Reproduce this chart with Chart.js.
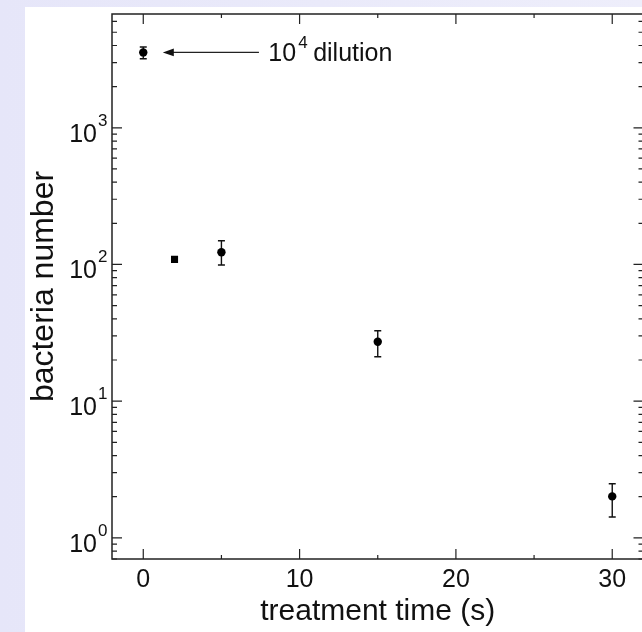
<!DOCTYPE html>
<html>
<head>
<meta charset="utf-8">
<script src="https://cdn.jsdelivr.net/npm/chart.js@4.4.0/dist/chart.umd.min.js"></script>
<style>
  html, body { margin: 0; padding: 0; overflow: hidden; }
  body { width: 642px; height: 632px; position: relative; background: linear-gradient(to right, #e6e6f9, #eeeefb); }
  #panel { position: absolute; left: 25px; top: 7px; right: 0; bottom: 0; background: #fff; }
  #wrap { position: absolute; left: 0; top: 0; width: 660px; height: 632px; }
</style>
</head>
<body>
<div id="panel"></div>
<div id="wrap"><canvas id="chart"></canvas></div>
<script>
// treatment time (s) and bacteria counts
var times = [0, 2, 5, 15, 30];
var counts = [3560, 109, 123, 27.2, 2.01];
var errLow = [3200, null, 99, 21.1, 1.42];
var errHigh = [3900, null, 149, 32.7, 2.49];
var markers = ['circle', 'rect', 'circle', 'circle', 'circle'];
var markerSize = [4.2, 5, 4.2, 4.2, 4.2];

var xTicks = [0, 5, 10, 15, 20, 25, 30];
var xLabels = [0, 10, 20, 30];
var yMajor = [1, 10, 100, 1000];
var yExp = ['0', '1', '2', '3'];
var yMin = 0.7, yMax = 6800;

// annotation: arrow pointing at the first point
var noteText = 'dilution';
var noteExp = '4';
var arrowFrom = 7.4, arrowTo = 1.25, noteX = 8.0, noteY = 3560;

var FONT = "'Liberation Sans', Arial, sans-serif";

function yTickValues() {
    var vals = [0.7, 0.8, 0.9];
    yMajor.forEach(function (d) {
        for (let m = 1; m <= 9; m++) {
            if (m * d <= yMax) vals.push(m * d);
        }
    });
    return vals;
}

var frame = {
    id: 'frame',
    beforeDatasetsDraw(chart) {
        const { ctx, scales: { x, y } } = chart;
        ctx.save();
        ctx.strokeStyle = '#111';
        ctx.lineWidth = 1.4;
        times.forEach(function (t, i) {
            if (errLow[i] == null) return;
            const px = x.getPixelForValue(t);
            const lo = y.getPixelForValue(errLow[i]);
            const hi = y.getPixelForValue(errHigh[i]);
            ctx.beginPath();
            ctx.moveTo(px, lo); ctx.lineTo(px, hi);
            ctx.moveTo(px - 3.5, lo); ctx.lineTo(px + 3.5, lo);
            ctx.moveTo(px - 3.5, hi); ctx.lineTo(px + 3.5, hi);
            ctx.stroke();
        });
        ctx.restore();
    },
    afterDraw(chart) {
        const { ctx, chartArea: a, scales: { x, y } } = chart;
        ctx.save();
        ctx.strokeStyle = '#222';
        ctx.lineWidth = 1.5;
        ctx.strokeRect(a.left, a.top, a.right - a.left, a.bottom - a.top);

        // inward tick marks
        ctx.lineWidth = 1.2;
        ctx.beginPath();
        x.ticks.forEach(function (t) {
            const px = x.getPixelForValue(t.value);
            const len = xLabels.indexOf(t.value) >= 0 ? 10 : 4;
            ctx.moveTo(px, a.bottom); ctx.lineTo(px, a.bottom - len);
            ctx.moveTo(px, a.top); ctx.lineTo(px, a.top + len);
        });
        y.ticks.forEach(function (t) {
            const py = y.getPixelForValue(t.value);
            const len = yMajor.indexOf(t.value) >= 0 ? 10 : 5;
            ctx.moveTo(a.left, py); ctx.lineTo(a.left + len, py);
            ctx.moveTo(a.right, py); ctx.lineTo(a.right - len, py);
        });
        ctx.stroke();

        // y labels with superscript exponents
        ctx.fillStyle = '#111';
        ctx.textBaseline = 'alphabetic';
        yMajor.forEach(function (v, i) {
            const py = y.getPixelForValue(v);
            ctx.font = '25px ' + FONT;
            ctx.textAlign = 'right';
            ctx.fillText('10', 97, py + 14);
            ctx.font = '17px ' + FONT;
            ctx.textAlign = 'left';
            ctx.fillText(yExp[i], 98, py - 2);
        });

        // annotation arrow + text
        const ay = y.getPixelForValue(noteY);
        const x0 = x.getPixelForValue(arrowFrom);
        const x1 = x.getPixelForValue(arrowTo);
        ctx.lineWidth = 1.2;
        ctx.beginPath();
        ctx.moveTo(x0, ay); ctx.lineTo(x1 + 8, ay);
        ctx.stroke();
        ctx.beginPath();
        ctx.moveTo(x1, ay);
        ctx.lineTo(x1 + 11, ay - 3.8);
        ctx.lineTo(x1 + 11, ay + 3.8);
        ctx.closePath();
        ctx.fill();

        const tx = x.getPixelForValue(noteX);
        ctx.font = '25px ' + FONT;
        ctx.textAlign = 'left';
        ctx.fillText('10', tx, ay + 9);
        const w10 = ctx.measureText('10').width;
        ctx.font = '17px ' + FONT;
        ctx.fillText(noteExp, tx + w10 + 2, ay - 4);
        ctx.font = '25px ' + FONT;
        ctx.fillText(noteText, tx + w10 + 17, ay + 9);
        ctx.restore();
    }
};

const ctx = document.getElementById('chart');
new Chart(ctx, {
    type: 'scatter',
    data: {
        datasets: [{
            data: times.map(function (t, i) { return { x: t, y: counts[i] }; }),
            pointStyle: markers,
            pointRadius: markerSize,
            pointBackgroundColor: '#000',
            pointBorderColor: '#000',
            pointBorderWidth: 0
        }]
    },
    options: {
        responsive: true,
        maintainAspectRatio: false,
        animation: false,
        layout: { padding: { top: 14, right: 16.5, bottom: 0, left: 0 } },
        scales: {
            x: {
                type: 'linear',
                min: -2,
                max: 32,
                afterBuildTicks: function (scale) {
                    scale.ticks = xTicks.map(function (v) { return { value: v }; });
                },
                afterFit: function (scale) { scale.height = 73; },
                grid: { display: false, drawTicks: false },
                border: { display: false },
                ticks: {
                    padding: 6,
                    autoSkip: false,
                    maxRotation: 0,
                    color: '#111',
                    font: { family: FONT, size: 25 },
                    callback: function (v) { return xLabels.indexOf(v) >= 0 ? String(v) : ''; }
                },
                title: {
                    display: true,
                    text: 'treatment time (s)',
                    color: '#111',
                    font: { family: FONT, size: 30 },
                    padding: { top: 0, bottom: 2 }
                }
            },
            y: {
                type: 'logarithmic',
                min: yMin,
                max: yMax,
                afterBuildTicks: function (scale) {
                    scale.ticks = yTickValues().map(function (v) { return { value: v }; });
                },
                afterFit: function (scale) { scale.width = 112; },
                grid: { display: false, drawTicks: false },
                border: { display: false },
                ticks: { display: false },
                title: {
                    display: true,
                    text: 'bacteria number',
                    color: '#111',
                    font: { family: FONT, size: 32 },
                    padding: { top: 25, bottom: 0 }
                }
            }
        },
        plugins: {
            legend: { display: false },
            tooltip: { enabled: false }
        }
    },
    plugins: [frame]
});
</script>
</body>
</html>
